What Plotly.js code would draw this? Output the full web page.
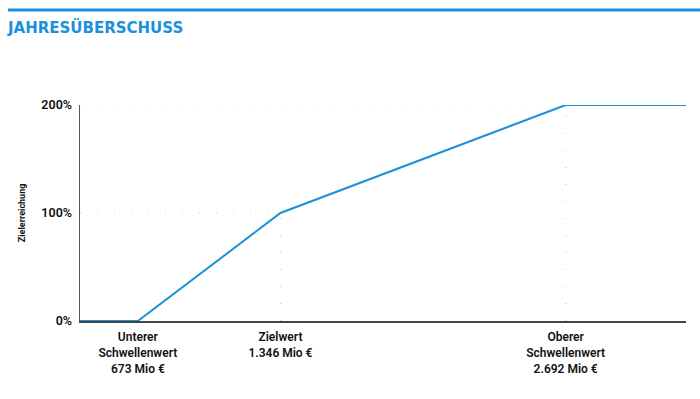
<!DOCTYPE html>
<html><head><meta charset="utf-8">
<script src="https://cdn.plot.ly/plotly-3.0.1.min.js"></script>
<style>html,body{margin:0;padding:0;background:#fff}#chart{width:700px;height:399px}</style>
</head><body><div id="chart"></div>
<script>
// Data (x in Mio €, y in % Zielerreichung)
const xValues = [400, 673, 1346, 2692, 3260];
const yValues = [0, 0, 100, 200, 200];
const tickValues = [673, 1346, 2692];
const tickLabels = ["Unterer<br>Schwellenwert<br>673 Mio €", "Zielwert<br>1.346 Mio €", "Oberer<br>Schwellenwert<br>2.692 Mio €"];
const yTickValues = [0, 100, 200];
const yTickLabels = ["0%", "100%", "200%"];
const zielX = 1346, obererX = 2692;

const W = 700, H = 399;
const L = 80, R = 14, T = 105, B = 78;
const pw = W - L - R, ph = H - T - B;
const px = v => (v - L) / pw;
const py = v => (H - B - v) / ph;
const blue = "#1b90dd";
const dots = {color: "#c4c4c4", width: 1, dash: "1px,16px"};

const trace = {
  x: xValues, y: yValues, type: "scatter", mode: "lines",
  line: {color: blue, width: 2}, hoverinfo: "skip"
};

const layout = {
  width: W, height: H,
  margin: {l: L, r: R, t: T, b: B},
  paper_bgcolor: "#fff", plot_bgcolor: "#fff",
  showlegend: false,
  font: {family: "Roboto, 'DejaVu Sans', sans-serif", color: "#111"},
  title: {
    text: "<b>JAHRESÜBERSCHUSS</b>",
    font: {family: "'DejaVu Sans', sans-serif", size: 15, color: blue},
    xref: "container", yref: "container", x: 8 / W, xanchor: "left",
    y: 1 - 28 / H, yanchor: "middle"
  },
  xaxis: {
    range: [xValues[0], xValues[xValues.length - 1]],
    tickmode: "array", tickvals: tickValues, ticktext: tickLabels,
    showgrid: false, zeroline: false, showline: true,
    linecolor: "#444", linewidth: 2, ticks: "",
    ticklabelstandoff: 4,
    tickfont: {size: 12, weight: 600, color: "#111"},
    fixedrange: true
  },
  yaxis: {
    range: [0, 200],
    tickmode: "array", tickvals: yTickValues, ticktext: yTickLabels,
    showgrid: false, zeroline: false, showline: true,
    linecolor: "#555", linewidth: 1.5, ticks: "",
    ticklabelstandoff: 4,
    tickfont: {size: 12.5, weight: 600, color: "#111"},
    title: {text: "<b>Zielerreichung</b>", font: {size: 9, color: "#111"}, standoff: 14},
    fixedrange: true
  },
  shapes: [
    {type: "line", xref: "paper", yref: "paper", x0: px(8), x1: px(700), y0: py(10), y1: py(10),
     line: {color: blue, width: 3}},
    {type: "line", xref: "x", yref: "y", x0: xValues[0], x1: zielX, y0: 100, y1: 100, line: dots, layer: "below"},
    {type: "line", xref: "x", yref: "y", x0: xValues[0], x1: obererX, y0: 200, y1: 200, line: dots, layer: "below"},
    {type: "line", xref: "x", yref: "y", x0: zielX, x1: zielX, y0: 0, y1: 100, line: dots, layer: "below"},
    {type: "line", xref: "x", yref: "y", x0: obererX, x1: obererX, y0: 0, y1: 200, line: dots, layer: "below"}
  ]
};

Plotly.newPlot("chart", [trace], layout, {staticPlot: true, displayModeBar: false});
</script></body></html>
